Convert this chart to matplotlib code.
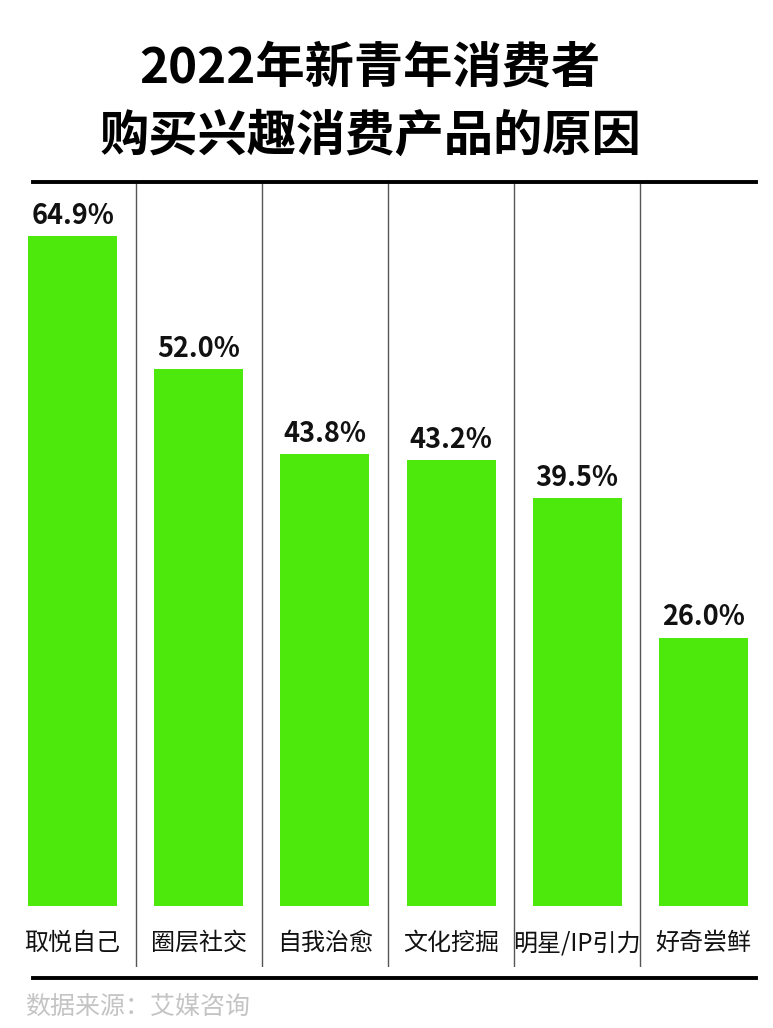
import matplotlib
matplotlib.use("Agg")
import matplotlib.pyplot as plt
from matplotlib.lines import Line2D

plt.rcParams['font.family'] = ['Noto Sans CJK SC', 'DejaVu Sans']

# data
categories = ["取悦自己", "圈层社交", "自我治愈", "文化挖掘", "明星/IP引力", "好奇尝鲜"]
values = [64.9, 52.0, 43.8, 43.2, 39.5, 26.0]
title_lines = ["2022年新青年消费者", "购买兴趣消费产品的原因"]
source = "数据来源：艾媒咨询"

W, H = 773, 1028
fig = plt.figure(figsize=(W / 100, H / 100), dpi=100)
fig.patch.set_facecolor("white")


def fx(px):
    return px / W


def fy(py):
    return 1 - py / H


# axes: columns from x=9.5 to 766.5, from y=182 (top rule) to 967 (bottom of separators)
ax = fig.add_axes([fx(9.5), fy(967), fx(757), (967 - 182) / H])
ax.set_xlim(-0.5, len(categories) - 0.5)
ax.set_ylim(-5.91, 70.15)
ax.axis("off")

green = "#4de80c"
ax.bar(range(len(values)), values, width=0.705, color=green, zorder=2)

for i, v in enumerate(values):
    ax.text(i, v + 1.2, f"{v:.1f}%", ha="center", va="baseline",
            fontsize=19.5, fontweight="bold", color="#111111")

for i, c in enumerate(categories):
    ax.text(i, -3.6, c, ha="center", va="center", fontsize=17.3, color="#111111")

for i in range(len(categories) - 1):
    ax.axvline(i + 0.5, color="#555555", lw=1.0, zorder=1)

# horizontal rules
fig.add_artist(Line2D([fx(33), fx(756)], [fy(182), fy(182)], color="black", lw=2.8))
fig.add_artist(Line2D([fx(33), fx(756)], [fy(978), fy(978)], color="black", lw=2.8))

# title
fig.text(fx(370), fy(68), title_lines[0], ha="center", va="center",
         fontsize=35.5, fontweight="heavy", color="black")
fig.text(fx(370), fy(136), title_lines[1], ha="center", va="center",
         fontsize=35.5, fontweight="heavy", color="black")

fig.text(fx(25), fy(1007), source, ha="left", va="center",
         fontsize=18, color="#c4c4c4")

fig.savefig("out.png", dpi=100)
